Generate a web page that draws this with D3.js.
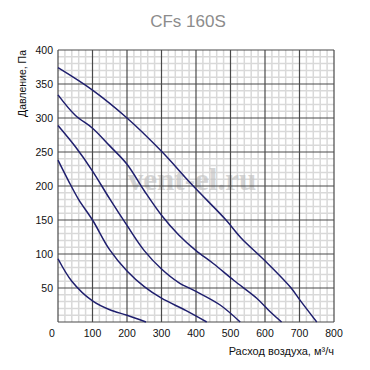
<!DOCTYPE html>
<html>
<head>
<meta charset="utf-8">
<script src="https://cdn.jsdelivr.net/npm/d3@7"></script>
<style>
  body { margin: 0; background: #fff; }
  svg { display: block; }
</style>
</head>
<body>
<div id="chart"></div>
<script>
// fan curves, CFs 160S (flow m3/h, pressure Pa)
var title = "CFs 160S";
var xTicks = [0, 100, 200, 300, 400, 500, 600, 700, 800];
var yTicks = [50, 100, 150, 200, 250, 300, 350, 400];

var curve1 = [[0,374],[100,341],[200,300],[300,251],[390,201],[487,150],[530,124],[600,90],[674,51],[703,31],[750,0]];
var curve2 = [[0,334],[50,304],[100,285],[150,259],[200,232],[250,193],[300,157],[350,128],[400,105],[450,86],[510,61],[576,35],[615,15],[648,0]];
var curve3 = [[0,289],[50,258],[100,222],[150,181],[200,142],[250,105],[300,78],[350,58],[400,45],[470,25],[528,0]];
var curve4 = [[0,238],[30,208],[60,180],[100,150],[150,106],[200,75],[250,52],[300,35],[370,17],[431,0]];
var curve5 = [[0,93],[40,60],[100,31],[150,18],[200,10],[255,0]];
var curves = [curve1, curve2, curve3, curve4, curve5];

var width = 370, height = 370;

var svg = d3.select("#chart").append("svg")
  .attr("width", width).attr("height", height);

var x = d3.scaleLinear().domain([0, 800]).range([58, 334]);
var y = d3.scaleLinear().domain([0, 400]).range([322, 50]);

// minor grid
var g = svg.append("g");
g.selectAll(".mx").data(d3.range(0, 801, 20).filter(function(d){ return d % 100 != 0; }))
  .enter().append("line")
  .attr("x1", function(d){ return x(d); }).attr("x2", function(d){ return x(d); })
  .attr("y1", y(0)).attr("y2", y(400))
  .style("stroke", "#d9d9d9").style("stroke-width", 1.5);
g.selectAll(".my").data(d3.range(0, 401, 10).filter(function(d){ return d % 50 != 0; }))
  .enter().append("line")
  .attr("y1", function(d){ return y(d); }).attr("y2", function(d){ return y(d); })
  .attr("x1", x(0)).attr("x2", x(800))
  .style("stroke", "#d9d9d9").style("stroke-width", 1.5);

// watermark
svg.append("text")
  .attr("x", 192).attr("y", 190)
  .style("text-anchor", "middle")
  .style("font", "bold 31px 'Liberation Serif', serif")
  .style("fill", "#c4c4c4").style("opacity", 0.7)
  .text("vent-el.ru");

// major grid
g = svg.append("g");
g.selectAll(".Mx").data(xTicks).enter().append("line")
  .attr("x1", function(d){ return x(d); }).attr("x2", function(d){ return x(d); })
  .attr("y1", y(0)).attr("y2", y(400))
  .style("stroke", "#4a4a4a").style("stroke-width", 1.2);
g.selectAll(".My").data([0].concat(yTicks)).enter().append("line")
  .attr("y1", function(d){ return y(d); }).attr("y2", function(d){ return y(d); })
  .attr("x1", x(0)).attr("x2", x(800))
  .style("stroke", "#4a4a4a").style("stroke-width", 1.2);

// curves
var line = d3.line()
  .x(function(d){ return x(d[0]); })
  .y(function(d){ return y(d[1]); })
  .curve(d3.curveCatmullRom.alpha(0.5));

svg.selectAll(".curve").data(curves).enter().append("path")
  .attr("d", line)
  .style("fill", "none").style("stroke", "#1f1f6e").style("stroke-width", 1.5);

// tick labels
svg.selectAll(".xl").data(xTicks).enter().append("text")
  .attr("x", function(d){ return d == 0 ? x(d) - 6 : x(d); })
  .attr("y", 337)
  .style("text-anchor", "middle")
  .style("font", "10.5px 'Liberation Sans', Arial, sans-serif")
  .style("fill", "#111")
  .text(function(d){ return d; });

svg.selectAll(".yl").data(yTicks).enter().append("text")
  .attr("x", 53)
  .attr("y", function(d){ return y(d) + 3.5; })
  .style("text-anchor", "end")
  .style("font", "10.5px 'Liberation Sans', Arial, sans-serif")
  .style("fill", "#111")
  .text(function(d){ return d; });

// titles
svg.append("text")
  .attr("x", 188).attr("y", 27)
  .style("text-anchor", "middle")
  .style("font", "17px 'Liberation Sans', Arial, sans-serif")
  .style("fill", "#8c8c8c")
  .text(title);

svg.append("text")
  .attr("x", 334).attr("y", 355)
  .style("text-anchor", "end")
  .style("font", "11px 'Liberation Sans', Arial, sans-serif")
  .style("fill", "#111")
  .text("Расход воздуха, м³/ч");

svg.append("text")
  .attr("transform", "translate(26,50) rotate(-90)")
  .style("text-anchor", "end")
  .style("font", "10.5px 'Liberation Sans', Arial, sans-serif")
  .style("fill", "#111")
  .text("Давление, Па");
</script>
</body>
</html>
